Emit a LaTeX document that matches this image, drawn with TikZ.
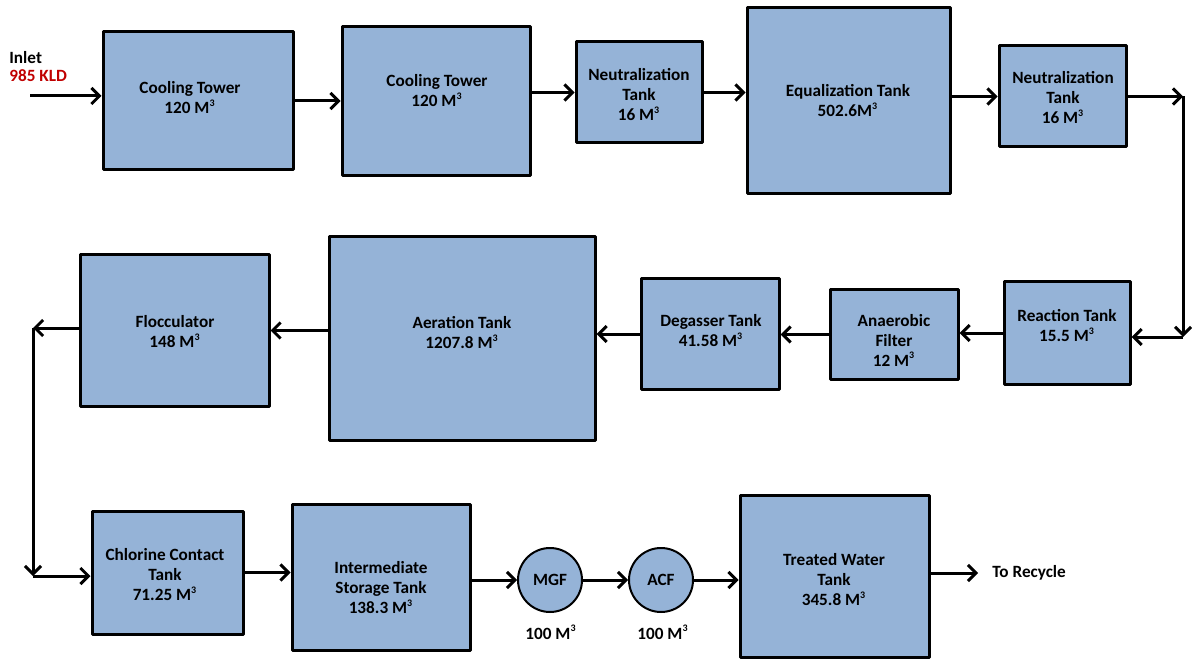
\documentclass[tikz,border=0pt]{standalone}
\usepackage{fontspec}
\setmainfont{Carlito}
\usetikzlibrary{arrows.meta}
\definecolor{tankblue}{HTML}{95B3D7}
\definecolor{inletred}{HTML}{C00000}
\newcommand{\cub}{M\textsuperscript{\fontsize{5}{5}\selectfont 3}}
\begin{document}
\begin{tikzpicture}[x=0.5pt,y=-0.5pt,>={Straight Barb[length=4pt,width=8pt]},line join=round,font=\fontsize{8.6}{10}\selectfont\bfseries,
	tank/.style 2 args={draw,fill=tankblue,line width=1.5pt,inner sep=0pt,minimum width=#1*0.5pt,minimum height=#2*0.5pt},
	pump/.style={draw,fill=tankblue,line width=1pt,circle,inner sep=0pt,minimum size=32pt},
	txt/.style={align=center,inner sep=0pt},
	flow/.style={->,line width=1.5pt}]
	\useasboundingbox (0,0) rectangle (1192,662);
	% first row
		\node[tank={190}{138}] (ct1) at (198,101) {};
		\node[tank={188}{149}] (ct2) at (436,101.5) {};
		\node[tank={126}{101}] (nt1) at (639,92.5) {};
		\node[tank={203}{186}] (eq) at (848.5,101) {};
		\node[tank={127}{101}] (nt2) at (1062.5,96.5) {};
		\node[txt] (ct1t) at (190,98) {Cooling Tower\\120 \cub};
		\node[txt] (ct2t) at (437,91) {Cooling Tower\\120 \cub};
		\node[txt] (nt1t) at (639,95) {Neutralization\\Tank\\16 \cub};
		\node[txt] (eqt) at (848,101) {Equalization Tank\\502.6\cub};
		\node[txt] (nt2t) at (1063,98) {Neutralization\\Tank\\16 \cub};
	% second row
		\node[tank={126}{102}] (react) at (1067,333) {};
		\node[tank={128}{89}] (anaer) at (894,334.5) {};
		\node[tank={138}{110}] (degas) at (710,334) {};
		\node[tank={266}{203}] (aer) at (462,338.5) {};
		\node[tank={189}{151}] (floc) at (174.5,330.5) {};
		\node[txt] (reactt) at (1067,326) {Reaction Tank\\15.5 \cub};
		\node[txt] (anaert) at (894,340) {Anaerobic\\Filter\\12 \cub};
		\node[txt] (degast) at (711,331) {Degasser Tank\\41.58 \cub};
		\node[txt] (aert) at (462,333) {Aeration Tank\\1207.8 \cub};
		\node[txt] (floct) at (175,332) {Flocculator\\148 \cub};
	% third row
		\node[tank={151}{123}] (chl) at (167.5,572.5) {};
		\node[tank={178}{146}] (ism) at (381,577) {};
		\node[pump] (mgf) at (550,580) {MGF};
		\node[pump] (acf) at (661,580) {ACF};
		\node[tank={189}{162}] (treated) at (834.5,576) {};
		\node[txt] (chlt) at (165,575) {Chlorine Contact\\Tank\\71.25 \cub};
		\node[txt] (ismt) at (381,588) {Intermediate\\Storage Tank\\138.3 \cub};
		\node[txt] (treatedt) at (834,580) {Treated Water\\Tank\\345.8 \cub};
		\node[txt] (mgfv) at (551,632) {100 \cub};
		\node[txt] (acfv) at (663,632) {100 \cub};
		\node[txt,anchor=west] (rec) at (992,573) {To Recycle};
	% inlet
		\node[txt,anchor=west] (inl) at (9,58) {Inlet};
		\node[txt,anchor=west,text=inletred] (kld) at (9,76) {985 KLD};
		\coordinate (in) at (30,96);
		\coordinate (c1) at (1183,97);
		\coordinate (c2) at (1183,337);
		\coordinate (c3) at (33,328);
		\coordinate (c4) at (33,576);
	% flow lines
		\draw[flow] (in) -- (ct1.west|-in);
		\draw[flow] (ct1.east) -- (ct2.west|-ct1.east);
		\draw[flow] (ct2.east|-nt1.west) -- (nt1.west);
		\draw[flow] (nt1.east) -- (eq.west|-nt1.east);
		\draw[flow] (eq.east|-nt2.west) -- (nt2.west);
		\draw[flow] (nt2.east) -- (nt2.east-|c1);
		\draw[flow] (nt2.east-|c1) -- (c2);
		\draw[flow] (c2) -- (react.east|-c2);
		\draw[flow] (react.west) -- (anaer.east|-react.west);
		\draw[flow] (anaer.west) -- (degas.east|-anaer.west);
		\draw[flow] (degas.west) -- (aer.east|-degas.west);
		\draw[flow] (aer.west|-floc.east) -- (floc.east);
		\draw[flow] (floc.west|-c3) -- (c3);
		\draw[flow] (c3) -- (c4);
		\draw[flow] (c4) -- (chl.west|-c4);
		\draw[flow] (chl.east) -- (ism.west|-chl.east);
		\draw[flow] (ism.east|-mgf) -- (mgf.west);
		\draw[flow] (mgf.east) -- (acf.west);
		\draw[flow] (acf.east) -- (treated.west|-acf.east);
		\draw[flow] (treated.east|-rec) -- ([xshift=-7pt]rec.west);
\end{tikzpicture}
\end{document}
